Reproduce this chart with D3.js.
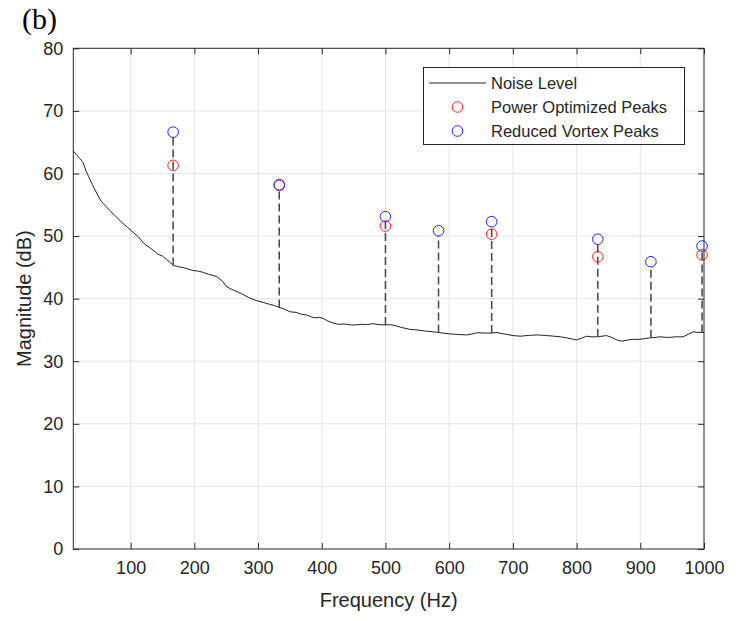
<!DOCTYPE html>
<html>
<head>
<meta charset="utf-8">
<script src="https://cdn.jsdelivr.net/npm/d3@7"></script>
<style>
  html, body { margin: 0; padding: 0; background: #fff; }
  svg { display: block; }
</style>
</head>
<body>
<svg id="chart" width="748" height="621"></svg>
<script>
// Measured noise floor (Hz, dB)
const noiseFreq = [10,15,20,25,30,35,40,45,50,55,60,67,75,85,95,105,112,122,132,143,150,156,162,167,175,185,198,206,214,222,230,237,245,250,256,265,274,285,297,308,318,326,333,342,350,360,368,376,383,389,396,402,410,418,426,435,445,454,462,470,480,490,500,508,515,525,538,550,564,575,582,590,598,610,627,636,643,655,666,675,683,690,700,712,727,740,753,765,775,784,793,800,808,816,824,832,840,847,855,863,871,880,889,898,906,915,923,931,945,955,967,975,983,990,1000];
const noiseDb = [63.6,63.0,62.4,61.8,60.4,59.3,58.2,57.2,56.2,55.4,54.9,54.1,53.3,52.3,51.4,50.5,49.9,48.7,48.0,47.1,46.8,46.3,45.8,45.3,45.1,44.9,44.5,44.4,44.2,43.9,43.7,43.4,42.7,42.0,41.6,41.2,40.8,40.2,39.7,39.4,39.1,38.9,38.6,38.3,37.9,37.8,37.5,37.4,37.1,36.95,37.0,36.85,36.4,36.1,35.9,35.95,35.8,35.8,35.9,35.85,36.0,35.85,35.8,35.85,35.7,35.4,35.1,35.0,34.8,34.7,34.6,34.5,34.4,34.3,34.2,34.35,34.55,34.5,34.5,34.6,34.4,34.3,34.1,34.0,34.15,34.2,34.1,34.0,33.9,33.75,33.55,33.4,33.7,34.0,33.9,33.9,34.0,34.1,33.8,33.4,33.2,33.4,33.5,33.5,33.6,33.75,33.8,33.9,33.8,33.9,33.9,34.3,34.7,34.6,34.6];

// Tonal peaks (harmonics of the blade-pass frequency)
const peakFreq    = [166.7, 333.3, 500, 583.3, 666.7, 833.3, 916.7, 997];
const powerPeaks  = [61.3, 58.1, 51.6, null, 50.3, 46.7, null, 47.0];
const vortexPeaks = [66.6, 58.2, 53.1, 50.85, 52.3, 49.5, 45.9, 48.4];
const stemBase    = [45.3, 38.6, 35.8, 34.6, 34.5, 33.9, 33.75, 34.6];

const xTicks = [100,200,300,400,500,600,700,800,900,1000];
const yTicks = [0,10,20,30,40,50,60,70,80];

const seriesNames = ["Noise Level", "Power Optimized Peaks", "Reduced Vortex Peaks"];

const svg = d3.select("#chart");
const plotL = 73.3, plotR = 704, plotT = 48.3, plotB = 549;
const axisColor = "#262626";
const font = "'Liberation Sans', Arial, Helvetica, sans-serif";

const x = d3.scaleLinear().domain([10, 1000]).range([plotL, plotR]);
const y = d3.scaleLinear().domain([0, 80]).range([plotB, plotT]);

// grid
const grid = svg.append("g");
grid.selectAll("line.gx").data(xTicks.filter(t => t < 1000)).join("line")
  .attr("x1", d => x(d)).attr("x2", d => x(d)).attr("y1", plotT).attr("y2", plotB)
  .attr("stroke", "#e3e3e3").attr("stroke-width", 1);
grid.selectAll("line.gy").data(yTicks.filter(t => t > 0 && t < 80)).join("line")
  .attr("x1", plotL).attr("x2", plotR).attr("y1", d => y(d)).attr("y2", d => y(d))
  .attr("stroke", "#e3e3e3").attr("stroke-width", 1);

// noise curve
const line = d3.line().x(d => x(d[0])).y(d => y(d[1]));
svg.append("path")
  .datum(noiseFreq.map((f, i) => [f, noiseDb[i]]))
  .attr("d", line).attr("fill", "none")
  .attr("stroke", "#222").attr("stroke-width", 1);

// dashed stems from noise floor to highest peak
svg.append("g").selectAll("line").data(peakFreq).join("line")
  .attr("x1", d => x(d)).attr("x2", d => x(d))
  .attr("y1", (d, i) => y(stemBase[i]))
  .attr("y2", (d, i) => y(Math.max(vortexPeaks[i], powerPeaks[i] ?? -Infinity)) + 5)
  .attr("stroke", "#444").attr("stroke-width", 1.5)
  .attr("stroke-dasharray", "8,4");

// peak markers
const markR = 5.3;
svg.append("g").selectAll("circle")
  .data(peakFreq.map((f, i) => [f, powerPeaks[i]]).filter(d => d[1] != null))
  .join("circle")
  .attr("cx", d => x(d[0])).attr("cy", d => y(d[1])).attr("r", markR)
  .attr("fill", "none").attr("stroke", "#ff2020").attr("stroke-width", 1);
svg.append("g").selectAll("circle")
  .data(peakFreq.map((f, i) => [f, vortexPeaks[i]]))
  .join("circle")
  .attr("cx", d => x(d[0])).attr("cy", d => y(d[1])).attr("r", markR)
  .attr("fill", "none").attr("stroke", "#2020ff").attr("stroke-width", 1);

// axes box with inward ticks on all sides
const tickLen = 6;
const axes = svg.append("g").attr("font-family", font);
axes.append("rect").attr("x", plotL).attr("y", plotT)
  .attr("width", plotR - plotL).attr("height", plotB - plotT)
  .attr("fill", "none").attr("stroke", axisColor).attr("stroke-width", 1);

const gx = axes.append("g").attr("transform", `translate(0,${plotB})`)
  .call(d3.axisBottom(x).tickValues(xTicks).tickFormat(d3.format("d")).tickSize(-tickLen).tickPadding(12));
const gxt = axes.append("g").attr("transform", `translate(0,${plotT})`)
  .call(d3.axisTop(x).tickValues(xTicks).tickSize(-tickLen).tickFormat(""));
const gy = axes.append("g").attr("transform", `translate(${plotL},0)`)
  .call(d3.axisLeft(y).tickValues(yTicks).tickFormat(d3.format("d")).tickSize(-tickLen).tickPadding(10));
const gyr = axes.append("g").attr("transform", `translate(${plotR},0)`)
  .call(d3.axisRight(y).tickValues(yTicks).tickSize(-tickLen).tickFormat(""));

[gx, gxt, gy, gyr].forEach(g => {
  g.select(".domain").remove();
  g.selectAll("line").attr("stroke", axisColor);
  g.selectAll("text").attr("fill", axisColor).attr("font-size", 18).attr("font-family", font);
});

// axis titles
axes.append("text").attr("x", (plotL + plotR) / 2).attr("y", 607)
  .attr("text-anchor", "middle").attr("font-size", 20).attr("fill", axisColor)
  .text("Frequency (Hz)");
axes.append("text")
  .attr("transform", `translate(31,${(plotT + plotB) / 2}) rotate(-90)`)
  .attr("text-anchor", "middle").attr("font-size", 20).attr("fill", axisColor)
  .text("Magnitude (dB)");

// panel label
svg.append("text").attr("x", 22).attr("y", 29)
  .attr("font-family", "'Liberation Serif', 'Times New Roman', serif")
  .attr("font-size", 30).attr("fill", "#000").text("(b)");

// legend
const lg = svg.append("g").attr("font-family", font);
lg.append("rect").attr("x", 423.5).attr("y", 67.5).attr("width", 261).attr("height", 77)
  .attr("fill", "#fff").attr("stroke", axisColor).attr("stroke-width", 1);
const rowY = [83, 107, 131];
lg.append("line").attr("x1", 429).attr("x2", 486).attr("y1", rowY[0]).attr("y2", rowY[0])
  .attr("stroke", "#222").attr("stroke-width", 1);
lg.append("circle").attr("cx", 457.5).attr("cy", rowY[1]).attr("r", markR)
  .attr("fill", "none").attr("stroke", "#ff2020");
lg.append("circle").attr("cx", 457.5).attr("cy", rowY[2]).attr("r", markR)
  .attr("fill", "none").attr("stroke", "#2020ff");
lg.selectAll("text.lab").data(seriesNames).join("text")
  .attr("x", 491).attr("y", (d, i) => rowY[i]).attr("dy", "0.35em")
  .attr("font-size", 16.5).attr("fill", axisColor).text(d => d);
</script>
</body>
</html>
